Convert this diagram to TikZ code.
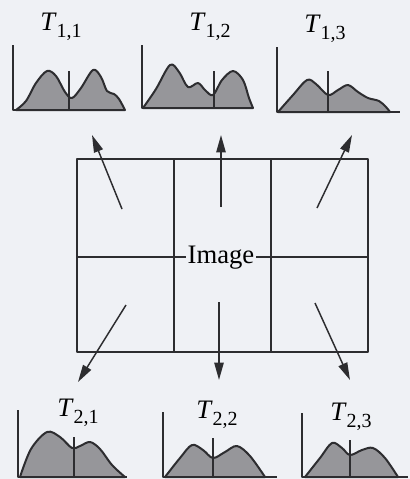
\documentclass[tikz,border=0pt]{standalone}
\usepackage{fontspec}
\setmainfont{Liberation Serif}
\usetikzlibrary{arrows.meta}
\definecolor{bgcol}{RGB}{239,241,245}
\definecolor{inkcol}{RGB}{45,45,48}
\definecolor{histcol}{RGB}{150,150,154}
\newcommand{\tname}[1]{\textit{T}\raisebox{-0.55ex}{\fontsize{15}{15}\selectfont #1}}

\begin{document}
\begin{tikzpicture}[x=0.75pt,y=-0.75pt,line join=round,
    grid/.style={draw=inkcol,line width=1.5pt},
    axis/.style={draw=inkcol,line width=1.4pt},
    curve/.style={fill=histcol,draw=inkcol,line width=1.5pt},
    thr/.style={draw=inkcol,line width=1.1pt},
    arr/.style={draw=inkcol,fill=inkcol,line width=1.1pt,-{Triangle[length=13pt,width=7pt]}},
    lbl/.style={font=\fontsize{20}{22}\selectfont,inner sep=0pt}]
    \fill[bgcol] (0,0) rectangle (410,479);

    % image grid
    \draw[grid] (77,159) rectangle (368,352);
    \draw[grid] (174,159) -- (174,352);
    \draw[grid] (271,159) -- (271,352);
    \draw[grid] (77,257) -- (368,257);
    \node[lbl,fill=bgcol,inner sep=1.5pt] (img) at (221,258) {Image};

    % arrows
    \coordinate (s11) at (122,209);  \coordinate (e11) at (92,135);
    \coordinate (s12) at (221,207);  \coordinate (e12) at (221,135);
    \coordinate (s13) at (317,208);  \coordinate (e13) at (352,135);
    \coordinate (s21) at (126,305);  \coordinate (e21) at (78,382);
    \coordinate (s22) at (219,302);  \coordinate (e22) at (219,380);
    \coordinate (s23) at (315,303);  \coordinate (e23) at (350,380);
    \draw[arr] (s11) -- (e11);
    \draw[arr] (s12) -- (e12);
    \draw[arr] (s13) -- (e13);
    \draw[arr] (s21) -- (e21);
    \draw[arr] (s22) -- (e22);
    \draw[arr] (s23) -- (e23);

    % histograms, top row
    \draw[curve] plot[smooth,tension=0.55] coordinates {(16,110) (26,101) (36,83) (47,71) (56,76) (65,92) (72,98) (81,88) (93,70) (101,77) (107,91) (114,94) (119,99) (125,110)} -- cycle;
    \draw[thr] (69,71) -- (69,110);
    \draw[axis] (13,45) -- (13,110) -- (125,110);
    \node[lbl] (t11) at (61,27) {\tname{1,1}};

    \draw[curve] plot[smooth,tension=0.55] coordinates {(143,108) (156,89) (170,65) (179,72) (188,87) (198,83) (205,90) (213,95) (222,80) (233,71) (243,80) (249,98) (253,108)} -- cycle;
    \draw[thr] (214,71) -- (214,108);
    \draw[axis] (142,45) -- (142,108) -- (253,108);
    \node[lbl] (t12) at (210,27) {\tname{1,2}};

    \draw[curve] plot[smooth,tension=0.55] coordinates {(278,112) (293,95) (307,80) (316,84) (328,95) (338,90) (348,85) (358,92) (368,98) (379,101) (386,107) (390,112)} -- cycle;
    \draw[thr] (328,71) -- (328,112);
    \draw[axis] (277,47) -- (277,112) -- (400,112);
    \node[lbl] (t13) at (325,29) {\tname{1,3}};

    % histograms, bottom row
    \draw[curve] plot[smooth,tension=0.55] coordinates {(20,477) (31,449) (47,432) (60,437) (72,448) (80,446) (90,442) (100,449) (112,465) (125,477)} -- cycle;
    \draw[thr] (74,437) -- (74,477);
    \draw[axis] (18,410) -- (18,477) -- (127,477);
    \node[lbl] (t21) at (78,413) {\tname{2,1}};

    \draw[curve] plot[smooth,tension=0.55] coordinates {(165,477) (180,458) (192,445) (203,450) (213,458) (225,452) (237,446) (250,456) (265,477)} -- cycle;
    \draw[thr] (213,438) -- (213,477);
    \draw[axis] (163,412) -- (163,477) -- (277,477);
    \node[lbl] (t22) at (217,415) {\tname{2,2}};

    \draw[curve] plot[smooth,tension=0.55] coordinates {(305,477) (320,458) (332,443) (342,448) (350,455) (362,450) (373,448) (385,458) (398,477)} -- cycle;
    \draw[thr] (350,440) -- (350,477);
    \draw[axis] (302,413) -- (302,477) -- (408,477);
    \node[lbl] (t23) at (351,417) {\tname{2,3}};
\end{tikzpicture}
\end{document}
